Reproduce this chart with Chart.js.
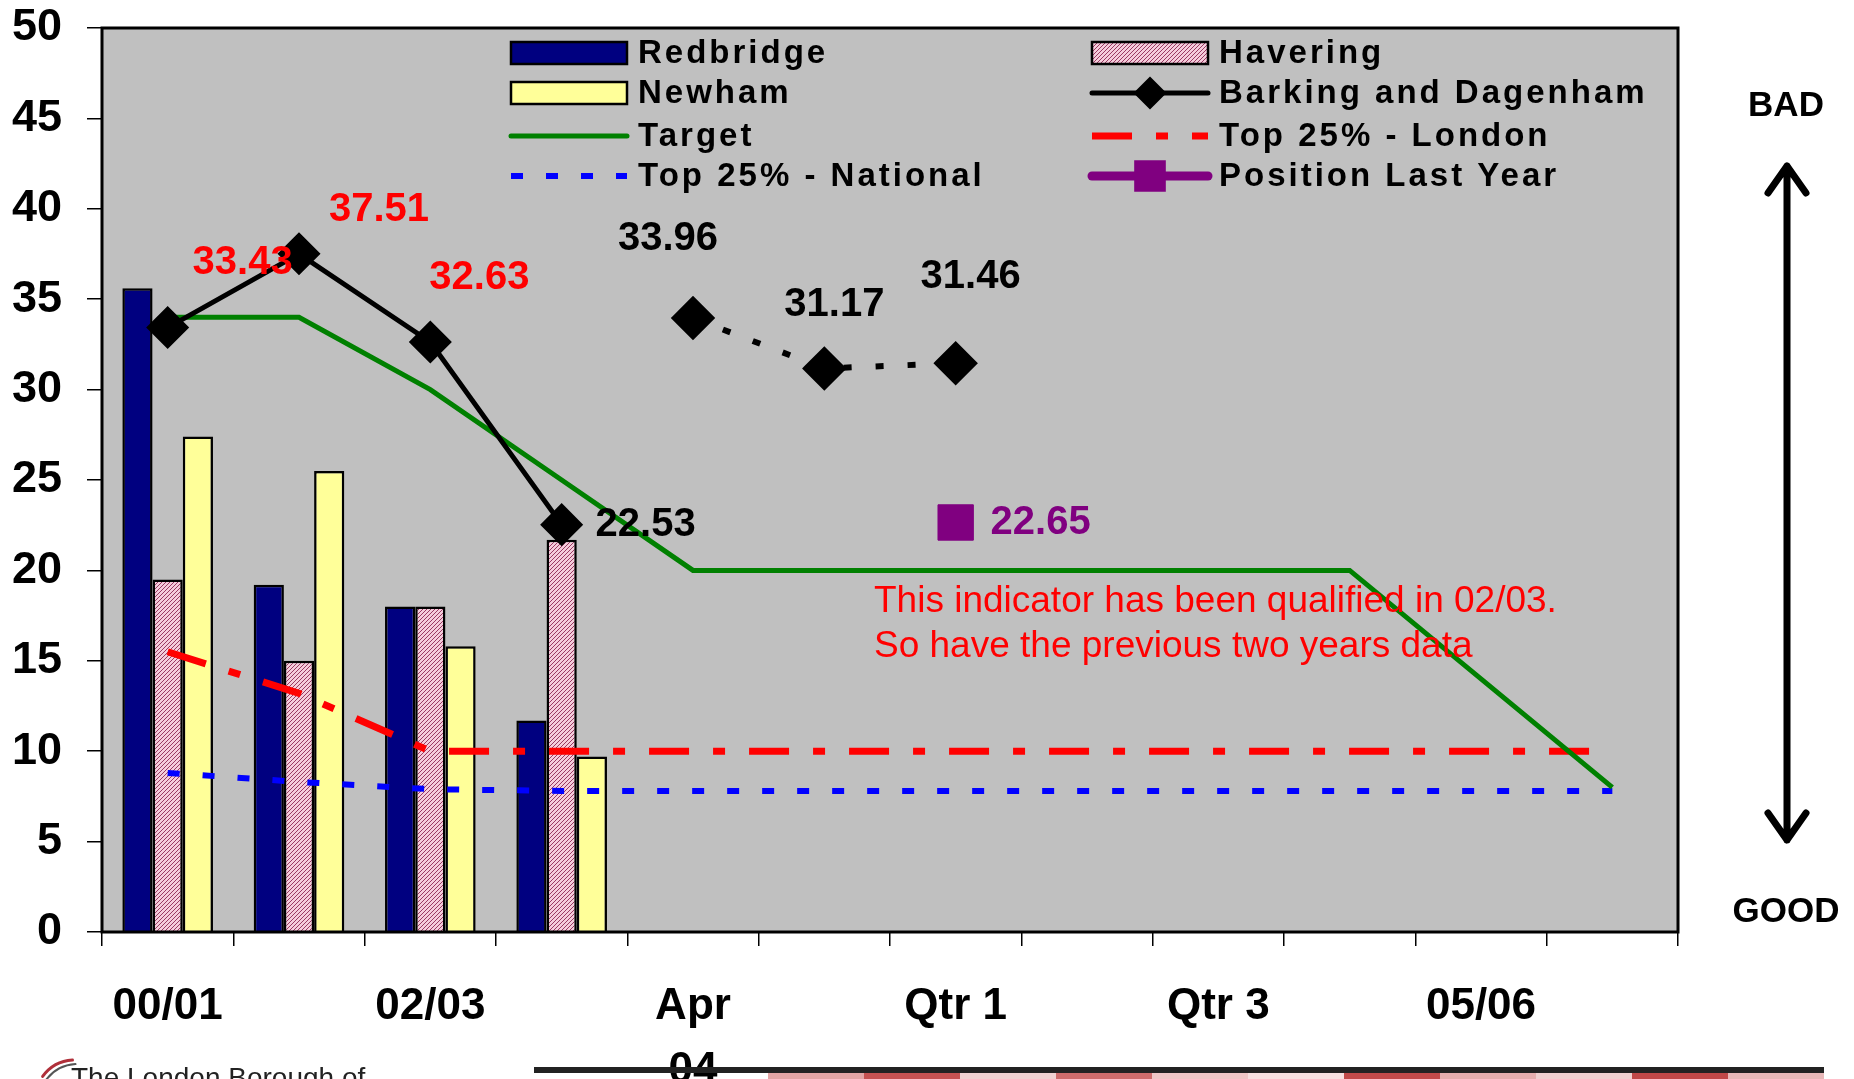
<!DOCTYPE html>
<html>
<head>
<meta charset="utf-8">
<script src="https://cdn.jsdelivr.net/npm/chart.js@4.4.1/dist/chart.umd.min.js"></script>
<style>
  html, body { margin: 0; padding: 0; background: #fff; }
  #wrap { position: relative; width: 1854px; height: 1079px; }
</style>
</head>
<body>
<div id="wrap"><canvas id="kpiChart"></canvas></div>
<script>
// categories shown on the x axis (every other one is left blank, as in the original)
const tickLabels = ['00/01', '', '02/03', '', ['Apr', '04'], '', 'Qtr 1', '', 'Qtr 3', '', '05/06', ''];

// series values
const redbridge = [35.6, 19.2, 18.0, 11.7, null, null, null, null, null, null, null, null];
const havering = [19.5, 15.0, 18.0, 21.7, null, null, null, null, null, null, null, null];
const newham = [27.4, 25.5, 15.8, 9.7, null, null, null, null, null, null, null, null];
const barking = [33.43, 37.51, 32.63, 22.53, null, null, null, null, null, null, null, null];
const barkingQuarterly = [null, null, null, null, 33.96, 31.17, 31.46, null, null, null, null, null];
const target = [34, 34, 30, 25, 20, 20, 20, 20, 20, 20, 14, 8];
const top25London = [15.5, 13.2, 10, 10, 10, 10, 10, 10, 10, 10, 10, 10];
const top25National = [8.8, 8.3, 7.9, 7.8, 7.8, 7.8, 7.8, 7.8, 7.8, 7.8, 7.8, 7.8];
const lastYear = [null, null, null, null, null, null, 22.65, null, null, null, null, null];

const FONT = "'Liberation Sans', Arial, sans-serif";
Chart.defaults.font.family = FONT;

const canvas = document.getElementById('kpiChart');

// pink hatch used for Havering
function makeHatch() {
    const c = document.createElement('canvas');
    c.width = 4; c.height = 4;
    const g = c.getContext('2d');
    g.fillStyle = '#F5CCDB';
    g.fillRect(0, 0, 4, 4);
    g.strokeStyle = '#9A3A62';
    g.lineWidth = 1;
    g.beginPath();
    g.moveTo(0, 4); g.lineTo(4, 0);
    g.moveTo(-1, 1); g.lineTo(1, -1);
    g.moveTo(3, 5); g.lineTo(5, 3);
    g.stroke();
    return canvas.getContext('2d').createPattern(c, 'repeat');
}
const hatch = makeHatch();

// label placement next to points: [dataset, index, colour, dx, dy]
const valueLabels = [
    [3, 0, '#FF0000', 75, -65],
    [3, 1, '#FF0000', 80, -44],
    [3, 2, '#FF0000', 49, -64],
    [3, 3, '#000000', 84, 0],
    [8, 4, '#000000', -25, -79],
    [8, 5, '#000000', 10, -63],
    [8, 6, '#000000', 15, -86],
    [7, 6, '#800080', 85, 0]
];

const plotFrame = {
    id: 'plotFrame',
    beforeDraw(chart) {
        const { ctx, chartArea: a } = chart;
        ctx.save();
        ctx.fillStyle = '#fff';
        ctx.fillRect(0, 0, chart.width, chart.height);
        ctx.fillStyle = '#C0C0C0';
        ctx.fillRect(a.left, a.top, a.right - a.left, a.bottom - a.top);
        ctx.restore();
    },
    afterDatasetsDraw(chart) {
        const { ctx, chartArea: a } = chart;
        ctx.save();
        ctx.strokeStyle = '#000';
        ctx.lineWidth = 3;
        ctx.strokeRect(a.left, a.top, a.right - a.left, a.bottom - a.top);
        ctx.restore();
    }
};

const pointLabels = {
    id: 'pointLabels',
    afterDatasetsDraw(chart) {
        const ctx = chart.ctx;
        ctx.save();
        ctx.font = 'bold 40px ' + FONT;
        ctx.textAlign = 'center';
        ctx.textBaseline = 'middle';
        valueLabels.forEach(([ds, i, color, dx, dy]) => {
            const pt = chart.getDatasetMeta(ds).data[i];
            const v = chart.data.datasets[ds].data[i];
            ctx.fillStyle = color;
            ctx.fillText(v.toFixed(2), pt.x + dx, pt.y + dy);
        });

        // note in the plot
        ctx.font = '37px ' + FONT;
        ctx.textAlign = 'left';
        ctx.textBaseline = 'alphabetic';
        ctx.fillStyle = '#FF0000';
        ctx.fillText('This indicator has been qualified in 02/03.', 874, 612);
        ctx.fillText('So have the previous two years data', 874, 657);
        ctx.restore();
    }
};

// two-column legend inside the plot
const gridLegend = {
    id: 'gridLegend',
    afterDraw(chart) {
        const ctx = chart.ctx;
        const colX = [511, 1092];
        const rowY = [53, 93, 136, 176];
        const sw = 116;
        ctx.save();
        chart.data.datasets.slice(0, 8).forEach((ds, k) => {
            const x = colX[k % 2];
            const y = rowY[Math.floor(k / 2)];
            if (ds.type === 'bar' || !ds.type) {
                ctx.fillStyle = ds.backgroundColor;
                ctx.fillRect(x, y - 11, sw, 22);
                ctx.strokeStyle = '#000';
                ctx.lineWidth = 2.5;
                ctx.strokeRect(x, y - 11, sw, 22);
            } else {
                if (ds.showLine !== false || ds.legendLine) {
                    ctx.strokeStyle = ds.borderColor;
                    ctx.lineWidth = ds.legendWidth || ds.borderWidth;
                    ctx.setLineDash(ds.borderDash || []);
                    ctx.lineCap = ds.borderDash ? 'butt' : 'round';
                    ctx.beginPath();
                    ctx.moveTo(x, y);
                    ctx.lineTo(x + sw, y);
                    ctx.stroke();
                    ctx.setLineDash([]);
                }
                if (ds.pointRadius) {
                    ctx.fillStyle = ds.pointBackgroundColor;
                    ctx.strokeStyle = ds.pointBackgroundColor;
                    Chart.helpers.drawPoint(ctx, {
                        pointStyle: ds.pointStyle, radius: ds.legendRadius, borderWidth: 1, rotation: 0
                    }, x + sw / 2, y);
                }
            }
            ctx.fillStyle = '#000';
            ctx.font = 'bold 33px ' + FONT;
            ctx.letterSpacing = '3px';
            ctx.textAlign = 'left';
            ctx.textBaseline = 'middle';
            ctx.fillText(ds.label, x + 127, y + 1);
            ctx.letterSpacing = '0px';
        });
        ctx.restore();
    }
};

// BAD / GOOD arrow and the page footer
const sideNotes = {
    id: 'sideNotes',
    afterDraw(chart) {
        const ctx = chart.ctx;
        ctx.save();
        ctx.fillStyle = '#000';
        ctx.font = 'bold 35px ' + FONT;
        ctx.textAlign = 'center';
        ctx.textBaseline = 'middle';
        ctx.fillText('BAD', 1786, 106);
        ctx.fillText('GOOD', 1786, 912);

        ctx.strokeStyle = '#000';
        ctx.lineWidth = 7;
        ctx.lineCap = 'round';
        ctx.lineJoin = 'round';
        ctx.beginPath();
        ctx.moveTo(1787, 166); ctx.lineTo(1787, 840);
        ctx.moveTo(1768, 193); ctx.lineTo(1787, 166); ctx.lineTo(1806, 193);
        ctx.moveTo(1768, 813); ctx.lineTo(1787, 840); ctx.lineTo(1806, 813);
        ctx.stroke();

        // footer strip
        ctx.fillStyle = '#222';
        ctx.fillRect(534, 1067, 1290, 6);
        const blocks = ['#E3A5A5', '#C65252', '#F1D2D2', '#CE6C6C', '#EFC6C6', '#F7E0E0',
            '#C14A4A', '#E6AEAE', '#F0D0D0', '#C04848', '#E8B8B8'];
        blocks.forEach((c, i) => {
            ctx.fillStyle = c;
            ctx.fillRect(768 + i * 96, 1073, 96, 6);
        });

        // borough logo line (cut by the page edge)
        ctx.strokeStyle = '#B0303A';
        ctx.lineWidth = 3;
        ctx.beginPath();
        ctx.arc(75, 1100, 40, Math.PI * 1.2, Math.PI * 1.48);
        ctx.stroke();
        ctx.strokeStyle = '#555';
        ctx.lineWidth = 2;
        ctx.beginPath();
        ctx.arc(78, 1104, 40, Math.PI * 1.2, Math.PI * 1.48);
        ctx.stroke();
        ctx.fillStyle = '#222';
        ctx.font = '28px ' + FONT;
        ctx.textAlign = 'left';
        ctx.textBaseline = 'alphabetic';
        ctx.fillText('The London Borough of', 71, 1087);
        ctx.restore();
    }
};

new Chart(canvas, {
    type: 'bar',
    data: {
        labels: tickLabels,
        datasets: [
            { label: 'Redbridge', data: redbridge, backgroundColor: '#000080', borderColor: '#000', borderWidth: 2.5, order: 3 },
            { label: 'Havering', data: havering, backgroundColor: hatch, borderColor: '#000', borderWidth: 2.5, order: 3 },
            { label: 'Newham', data: newham, backgroundColor: '#FFFF99', borderColor: '#000', borderWidth: 2.5, order: 3 },
            {
                type: 'line', label: 'Barking and Dagenham', data: barking,
                borderColor: '#000', borderWidth: 5, pointStyle: 'rectRot', pointRadius: 18,
                pointBackgroundColor: '#000', pointBorderColor: '#000', legendRadius: 13, order: 0
            },
            {
                type: 'line', label: 'Target', data: target,
                borderColor: '#008000', borderWidth: 5, pointRadius: 0, order: 1
            },
            {
                type: 'line', label: 'Top 25% - London', data: top25London,
                borderColor: '#FF0000', borderWidth: 7, borderDash: [40, 24, 12, 24], pointRadius: 0, order: 2
            },
            {
                type: 'line', label: 'Top 25% - National', data: top25National,
                borderColor: '#0000FF', borderWidth: 6, borderDash: [12, 23], pointRadius: 0, order: 2
            },
            {
                type: 'line', label: 'Position Last Year', data: lastYear, showLine: false, legendLine: true,
                borderColor: '#800080', legendWidth: 9, pointStyle: 'rect', pointRadius: 25,
                pointBackgroundColor: '#800080', pointBorderColor: '#800080', legendRadius: 16, order: 0
            },
            {
                type: 'line', label: 'Barking and Dagenham (quarterly)', data: barkingQuarterly,
                borderColor: '#000', borderWidth: 6, borderDash: [8, 24], pointStyle: 'rectRot', pointRadius: 18,
                pointBackgroundColor: '#000', pointBorderColor: '#000', order: 0
            }
        ]
    },
    options: {
        responsive: true,
        maintainAspectRatio: false,
        animation: false,
        events: [],
        datasets: { bar: { categoryPercentage: 0.69, barPercentage: 1.0 } },
        layout: { padding: { top: 28, right: 176, left: 0, bottom: 0 } },
        scales: {
            x: {
                offset: true,
                grid: { offset: true, drawOnChartArea: false, tickLength: 14, color: '#000', lineWidth: 1.5 },
                border: { display: false },
                ticks: {
                    autoSkip: false, maxRotation: 0, padding: 29, color: '#000',
                    font: { size: 44, weight: 'bold', lineHeight: 1.45 }
                },
                afterFit(scale) { scale.height = 147; }
            },
            y: {
                min: 0, max: 50,
                grid: { drawOnChartArea: false, tickLength: 15, color: '#000', lineWidth: 1.5 },
                border: { display: false },
                ticks: { stepSize: 5, padding: 25, color: '#000', font: { size: 45, weight: 'bold' } },
                afterFit(scale) {
                    scale.width = 102;
                    scale.paddingTop = 0;
                    scale.paddingBottom = 0;
                }
            }
        },
        plugins: {
            legend: { display: false },
            tooltip: { enabled: false }
        }
    },
    plugins: [plotFrame, pointLabels, gridLegend, sideNotes]
});
</script>
</body>
</html>
